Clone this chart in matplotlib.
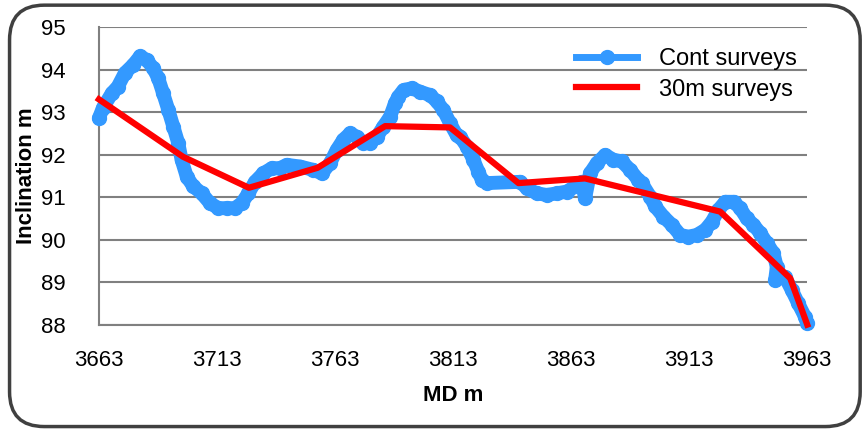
import matplotlib.pyplot as plt
from matplotlib.patches import FancyBboxPatch
from matplotlib.lines import Line2D

# continuous surveys
cont_md = [3663.0, 3664.7, 3668.4, 3671.0, 3674.0, 3677.5, 3680.4, 3683.2, 3686.0, 3688.1,
           3690.2, 3692.4, 3694.5, 3696.6, 3698.0, 3700.2, 3703.0, 3706.5, 3710.0, 3713.6,
           3717.1, 3720.6, 3723.5, 3726.3, 3729.1, 3732.6, 3736.2, 3739.7, 3742.5, 3748.2,
           3753.8, 3757.4, 3760.9, 3763.7, 3766.5, 3769.4, 3772.2, 3775.0, 3777.8, 3780.7,
           3783.5, 3786.3, 3788.4, 3789.8, 3792.0, 3795.5, 3799.0, 3803.3, 3806.1, 3808.9,
           3811.7, 3814.5, 3816.0, 3818.8, 3821.6, 3823.7, 3825.2, 3827.3, 3841.4, 3844.2,
           3848.4, 3852.7, 3856.9, 3861.1, 3864.7, 3867.5, 3868.9, 3871.0, 3873.9, 3877.4,
           3880.9, 3884.5, 3888.0, 3891.5, 3892.9, 3896.5, 3898.6, 3902.1, 3905.6, 3909.2,
           3912.7, 3916.2, 3919.8, 3922.6, 3925.4, 3928.3, 3931.8, 3934.6, 3937.4, 3940.2,
           3943.1, 3945.9, 3948.7, 3950.1, 3949.4, 3953.5, 3956.4, 3959.2, 3962.0, 3963.0]
cont_inc = [92.86, 93.10, 93.44, 93.60, 93.92, 94.11, 94.31, 94.23, 94.03, 93.80,
            93.44, 93.05, 92.66, 92.27, 91.88, 91.48, 91.25, 91.09, 90.86, 90.74,
            90.74, 90.74, 90.86, 91.09, 91.36, 91.56, 91.68, 91.68, 91.76, 91.72,
            91.64, 91.56, 91.80, 92.11, 92.35, 92.50, 92.42, 92.27, 92.27, 92.42,
            92.66, 92.89, 93.21, 93.36, 93.52, 93.56, 93.48, 93.40, 93.25, 93.05,
            92.74, 92.46, 92.42, 92.19, 91.88, 91.60, 91.40, 91.33, 91.36, 91.21,
            91.09, 91.05, 91.09, 91.13, 91.25, 91.36, 90.97, 91.56, 91.80, 91.99,
            91.88, 91.84, 91.64, 91.40, 91.33, 91.01, 90.78, 90.54, 90.35, 90.11,
            90.07, 90.11, 90.23, 90.42, 90.70, 90.89, 90.89, 90.74, 90.50, 90.35,
            90.15, 89.92, 89.68, 89.36, 89.05, 89.13, 88.82, 88.50, 88.19, 88.03]

# 30m surveys
svy_md = [3663.0, 3698.6, 3726.5, 3755.6, 3784.2, 3811.7, 3840.7, 3868.9, 3926.1, 3955.8, 3963.0]
svy_inc = [93.30, 91.95, 91.22, 91.69, 92.67, 92.64, 91.33, 91.44, 90.66, 89.09, 88.00]

xticks = [3663, 3713, 3763, 3813, 3863, 3913, 3963]
yticks = [88, 89, 90, 91, 92, 93, 94, 95]

fam = ['Liberation Sans Narrow', 'Liberation Sans', 'DejaVu Sans']
blue = '#3399ff'
red = '#ff0000'

fig = plt.figure(figsize=(8.68, 4.3), dpi=100)
frame = FancyBboxPatch((0.011, 0.008), 0.98, 0.98, boxstyle='round,pad=0,rounding_size=0.04',
                       transform=fig.transFigure, facecolor='white', edgecolor='#404040',
                       linewidth=2.5, mutation_aspect=868 / 430, zorder=-1)
fig.patches.append(frame)

ax = fig.add_axes([0.114, 0.245, 0.816, 0.692])
ax.set_facecolor('none')
ax.plot(cont_md, cont_inc, color=blue, lw=10, marker='o', ms=10, mec=blue, mfc=blue,
        solid_joinstyle='round', solid_capstyle='round', zorder=3, clip_on=False)
ax.plot(svy_md, svy_inc, color=red, lw=4.5, zorder=4, clip_on=False)

ax.set_xlim(3663, 3963)
ax.set_ylim(88, 95)
ax.set_xticks(xticks)
ax.set_yticks(yticks)
ax.grid(axis='y', color='#808080', lw=1.5)
ax.set_axisbelow(True)
for s in ['top', 'right']:
    ax.spines[s].set_visible(False)
for s in ['left', 'bottom']:
    ax.spines[s].set_color('#808080')
    ax.spines[s].set_linewidth(1.5)
ax.tick_params(axis='y', length=0, pad=24)
ax.tick_params(axis='x', length=0, pad=18)
for lab in ax.get_xticklabels() + ax.get_yticklabels():
    lab.set_family(fam)
    lab.set_fontsize(16)
ax.set_xlabel('MD m', family=fam, fontsize=16, fontweight='bold', labelpad=10)
ax.set_ylabel('Inclination m', family=fam, fontsize=16, fontweight='bold', labelpad=3)

handles = [Line2D([], [], color=blue, lw=5, marker='o', ms=10),
           Line2D([], [], color=red, lw=4.5)]
ax.legend(handles, ['Cont surveys', '30m surveys'], loc='upper right', frameon=False,
          prop={'family': fam, 'size': 17}, bbox_to_anchor=(1.015, 1.0),
          handlelength=2.6, labelspacing=0.35, handletextpad=0.9)

fig.savefig('out.png', dpi=100)
